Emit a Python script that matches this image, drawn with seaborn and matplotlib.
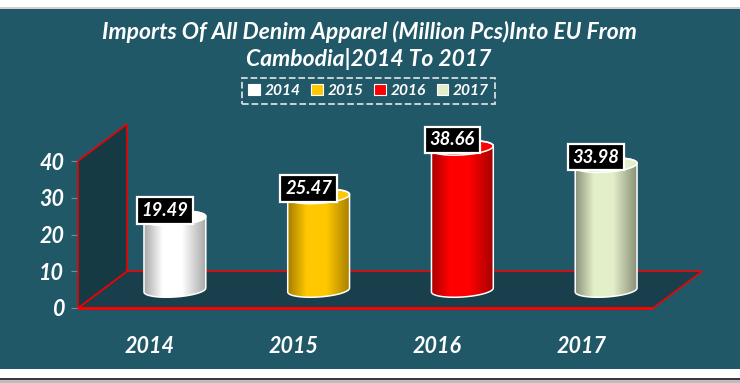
import numpy as np
import pandas as pd
import matplotlib
matplotlib.use("Agg")
import matplotlib.pyplot as plt
from matplotlib.colors import LinearSegmentedColormap
from matplotlib.patches import Polygon, Patch, Rectangle
import seaborn as sns

years = ["2014", "2015", "2016", "2017"]
imports = [19.49, 25.47, 38.66, 33.98]
yticks = [0, 10, 20, 30, 40]
title = "Imports Of All Denim Apparel (Million Pcs)Into EU From\nCambodia|2014 To 2017"

bar_colors = ["#FFFFFF", "#FFC800", "#FF0000", "#E3EFC8"]
edge_dark = ["#A8A8A8", "#A87F00", "#A80000", "#8A9078"]

W, H = 740, 383
TEAL = "#215868"
sns.set_theme(style="white")
plt.rcParams["font.family"] = ["Lato", "DejaVu Sans"]
FONT = dict(fontweight="bold", fontstyle="italic", color="white")

fig = plt.figure(figsize=(W / 100, H / 100), dpi=100, facecolor="white")


def rect(x0, y0, x1, y1):
    return [x0 / W, 1 - y1 / H, (x1 - x0) / W, (y1 - y0) / H]


def band(x0, y0, x1, y1, color):
    fig.add_artist(Rectangle((x0 / W, 1 - y1 / H), (x1 - x0) / W, (y1 - y0) / H,
                             transform=fig.transFigure, fc=color, ec="none", zorder=-5))


band(0, 9, W, 369, TEAL)
band(0, 7, W, 9, "#CFCFCF")
band(0, 378, W, 380, "#3A3A3A")
band(0, 380, W, 383, "#BDBDBD")

# front-plane axes
L, R, Y0, Y40 = 78, 653, 308, 161
ax = fig.add_axes(rect(L, Y40, R, Y0), facecolor="none", zorder=1)
ax.set_xlim(-0.5, 3.5)
ax.set_ylim(0, 40)

# depth of the 3D box in data units
ddx, ddy = 49 / 143.75, 10
wall = Polygon([(-0.5, 0), (-0.5, 40), (-0.5 + ddx, 40 + ddy), (-0.5 + ddx, ddy)], closed=True,
               fc="#153A44", ec="#F00000", lw=1.2, clip_on=False, zorder=1)
floor = Polygon([(-0.5, 0), (-0.5 + ddx, ddy), (3.5 + ddx, ddy), (3.5, 0)], closed=True,
                fc="#193F4C", ec="#F00000", lw=1.2, clip_on=False, zorder=1)
ax.add_patch(floor)
ax.add_patch(wall)
ax.plot([-0.5, 3.5], [0, 0], color="#FF0000", lw=2.0, clip_on=False, zorder=2,
        solid_capstyle="butt")

ax.set_xticks(range(4))
ax.set_xticklabels(years, fontsize=15.5, **FONT)
ax.set_yticks(yticks)
ax.set_yticklabels([str(v) for v in yticks], fontsize=15.5, **FONT)
ax.tick_params(axis="x", length=0, pad=20)
ax.tick_params(axis="y", length=5, width=0.8, color="#6F8F99", pad=5, left=True)
for s in ax.spines.values():
    s.set_visible(False)

# bars sit further back: same scale, shifted axes, with room for the ellipses
DX, DY = 25, 18
SCALE = (Y0 - Y40) / 40
YMIN, YMAX = -10, 50
ax2 = fig.add_axes(rect(L + DX, Y0 - DY - YMAX * SCALE, R + DX, Y0 - DY - YMIN * SCALE),
                   facecolor="none", zorder=2)
df = pd.DataFrame({"year": years, "imports": imports})
sns.barplot(data=df, x="year", y="imports", hue="year", palette=bar_colors, width=0.43,
            dodge=False, legend=False, ax=ax2, saturation=1, errorbar=None)
ax2.axis("off")

RY, SLOPE = 1.9, 2.5
t = np.linspace(0, 2 * np.pi, 121)


def ring(cx, cy, a):
    x = a * np.cos(t)
    return np.c_[cx + x, cy + RY * np.sin(t) + SLOPE * x]


for bar, c, d in zip(ax2.patches, bar_colors, edge_dark):
    cx = bar.get_x() + bar.get_width() / 2
    a = bar.get_width() / 2
    top = bar.get_height()
    low = ring(cx, 0, a)[60:121]      # lower half, left to right
    cap = ring(cx, top, a)
    body_xy = np.r_[low, cap[:61]]
    body = Polygon(body_xy, closed=True, transform=ax2.transData, fc="none", ec="none")
    ax2.add_patch(body)
    bar.set_clip_path(body)
    cm = LinearSegmentedColormap.from_list("g", [(0, d), (0.3, c), (0.62, c), (1, d)])
    grad = np.linspace(0, 1, 128)[None, :]
    ext = (cx - a, cx + a, -RY - SLOPE * a, top + RY + SLOPE * a)
    im = ax2.imshow(grad, cmap=cm, extent=ext, aspect="auto", zorder=3)
    im.set_clip_path(body)
    capg = Polygon(cap, closed=True, transform=ax2.transData, fc="none", ec="none")
    ax2.add_patch(capg)
    im2 = ax2.imshow(grad * 0.6 + 0.05, cmap=cm, vmin=0, vmax=1, extent=ext, aspect="auto", zorder=4)
    im2.set_clip_path(capg)
    ax2.add_patch(Polygon(body_xy, closed=True, fc="none", ec="white", lw=1.1, zorder=5))
    ax2.add_patch(Polygon(cap, closed=True, fc="none", ec="white", lw=1.1, zorder=5))
    ax2.annotate(f"{top:.2f}", (cx, top), xytext=(-10, 8), textcoords="offset pixels",
                 ha="center", va="center", fontsize=13.2, zorder=8, **FONT,
                 bbox=dict(boxstyle="square,pad=0.26", fc="black", ec="white", lw=1.6))
ax2.set_xlim(-0.5, 3.5)
ax2.set_ylim(YMIN, YMAX)

fig.text(369 / W, 1 - 45 / H, title, ha="center", va="center", fontsize=16.5,
         linespacing=1.28, **FONT)

handles = [Patch(fc=c, ec="white", lw=0.8, label=y) for c, y in zip(bar_colors, years)]
leg = fig.legend(handles=handles, ncol=4, loc="center", bbox_to_anchor=(368.5 / W, 1 - 91 / H),
                 frameon=True, fancybox=False, handlelength=0.75, handleheight=0.75,
                 handletextpad=0.3, columnspacing=0.7, borderpad=0.38,
                 prop=dict(family="Lato", weight="bold", style="italic", size=11.2))
leg.get_frame().set(facecolor="none", edgecolor="white", linestyle="--", linewidth=1.3)
for txt in leg.get_texts():
    txt.set_color("white")

fig.savefig("out.png", dpi=100, facecolor="white")
